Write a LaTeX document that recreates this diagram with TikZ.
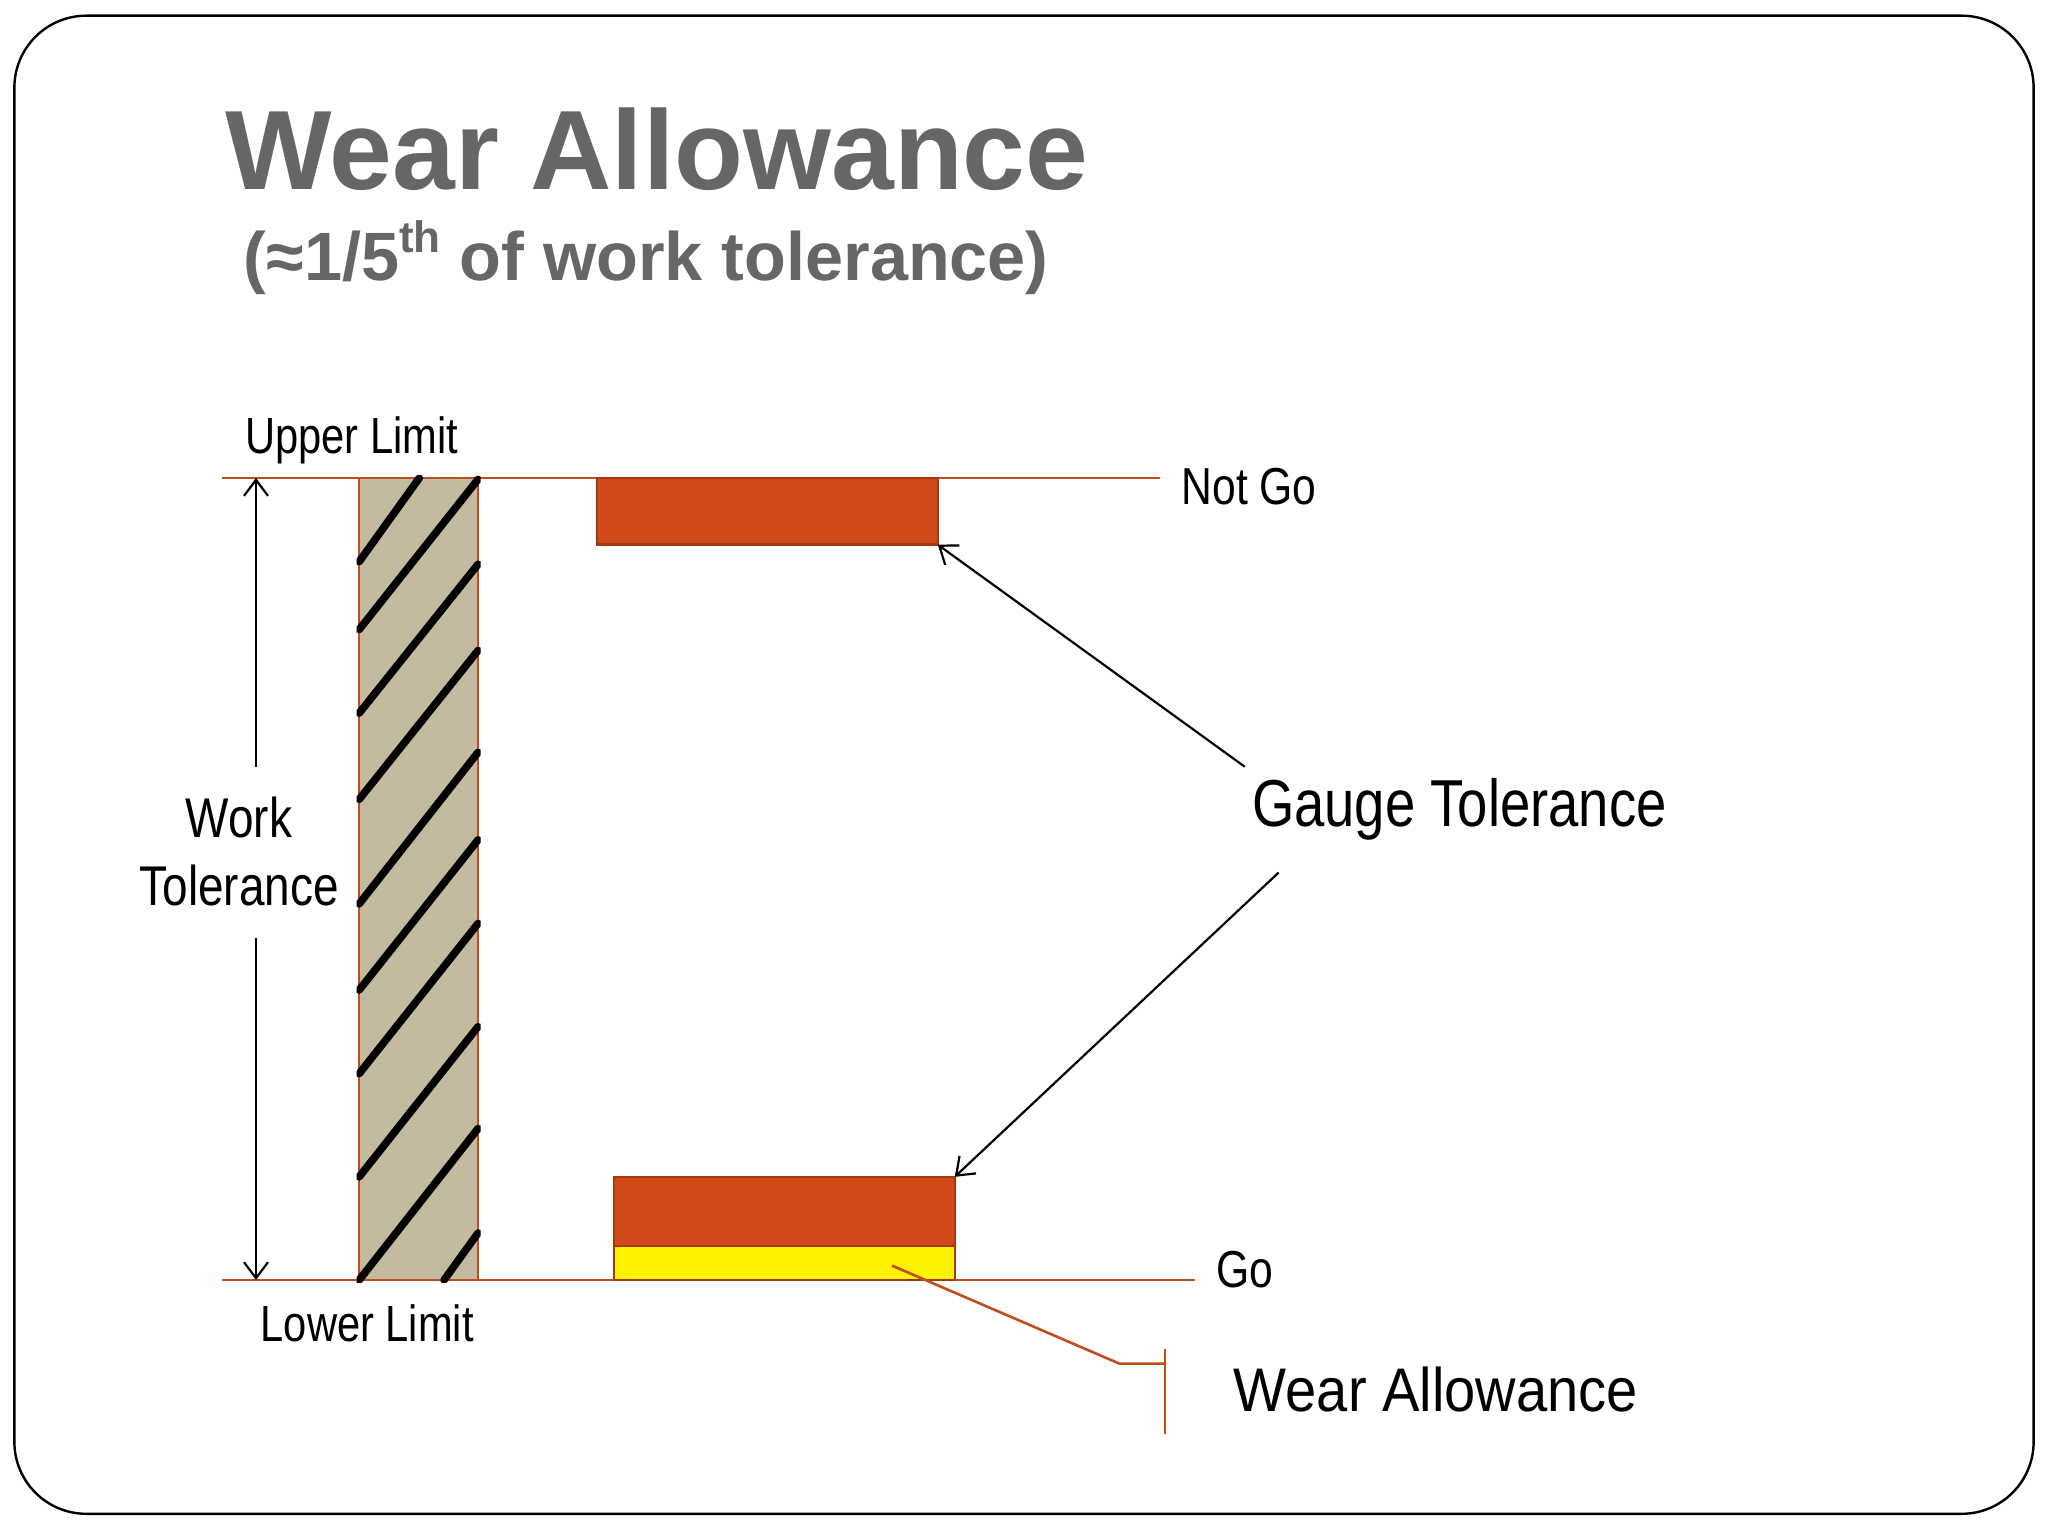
\documentclass[tikz,border=0pt]{standalone}
\usepackage{fontspec}
\setmainfont{Liberation Sans}
\newfontfamily\narrowfont[FakeStretch=0.82]{Liberation Sans}
\newfontfamily\semifont[FakeStretch=0.91]{Liberation Sans}
\usetikzlibrary{arrows.meta}
\definecolor{lineor}{RGB}{190,78,30}
\definecolor{rectedge}{RGB}{165,55,20}
\definecolor{redfill}{RGB}{210,74,26}
\definecolor{tanfill}{RGB}{196,186,160}
\definecolor{titlegray}{RGB}{104,101,102}
\tikzset{
  limitline/.style={draw=lineor, line width=0.55pt},
  gaugebox/.style={draw=rectedge, line width=0.6pt, fill=redfill},
  wearbox/.style={draw=rectedge, line width=0.6pt, fill=yellow},
  hatchline/.style={line width=1.9pt, black, line cap=round},
  ptr/.style={line width=0.55pt, black, -{Straight Barb[length=4pt,width=6pt]}},
  lbl/.style={inner sep=0pt, anchor=base west, font=\narrowfont\fontsize{12.7}{15}\selectfont},
}
\begin{document}
\begin{tikzpicture}[x=0.32653pt, y=-0.32653pt]
\useasboundingbox (0,0) rectangle (1568,1176);
\fill[white] (0,0) rectangle (1568,1176);
\draw[line width=0.6pt, rounded corners=18pt] (11,12) rectangle (1557,1159);

% title
\node[inner sep=0pt, anchor=base west, text=titlegray, font=\bfseries\fontsize{28.2}{33}\selectfont] (title) at (172,145) {Wear Allowance};
\node[inner sep=0pt, anchor=base west, text=titlegray, font=\bfseries\fontsize{17.1}{20}\selectfont] (subtitle) at (186,215)
  {(≈1/5\raisebox{0.42em}{\fontsize{11}{12}\selectfont th} of work tolerance)};

% limit lines
\coordinate (ulA) at (170,366); \coordinate (ulB) at (888,366);
\coordinate (llA) at (170,980); \coordinate (llB) at (915,980);
\draw[limitline] (ulA) -- (ulB);
\draw[limitline] (llA) -- (llB);

% hatched work column
\coordinate (colTL) at (275,366); \coordinate (colBR) at (366,980);
\fill[tanfill] (colTL) rectangle (colBR);
\draw[draw=lineor, line width=0.6pt] (colTL) rectangle (colBR);
\begin{scope}
  \clip (273,364) rectangle (368,982);
  \draw[hatchline] (275,430) -- (321,366);
  \draw[hatchline] (275,482) -- (366,367);
  \draw[hatchline] (275,546) -- (366,432);
  \draw[hatchline] (275,612) -- (366,498);
  \draw[hatchline] (275,692) -- (366,576);
  \draw[hatchline] (275,758) -- (366,643);
  \draw[hatchline] (275,822) -- (366,707);
  \draw[hatchline] (275,901) -- (366,786);
  \draw[hatchline] (275,980) -- (366,864);
  \draw[hatchline] (340,980) -- (366,944);
\end{scope}

% labels of limits
\node[lbl] (upper) at (187,347) {Upper Limit};
\node[lbl] (lower) at (199,1027) {Lower Limit};

% work tolerance dimension
\node[inner sep=0pt, align=center, font=\narrowfont\fontsize{14}{17}\selectfont] (wt) at (183,652) {Work\\Tolerance};
\coordinate (wtTop) at (196,366); \coordinate (wtBot) at (196,980);
\coordinate (wtA) at (196,587); \coordinate (wtB) at (196,718);
\draw[ptr] (wtA) -- (wtTop);
\draw[ptr] (wtB) -- (wtBot);

% gauge boxes
\coordinate (ngTL) at (457,366); \coordinate (ngBR) at (718,417);
\draw[gaugebox] (ngTL) rectangle (ngBR);
\coordinate (goTL) at (470,901); \coordinate (goMR) at (731,954);
\draw[gaugebox] (goTL) rectangle (goMR);
\coordinate (waTL) at (470,954); \coordinate (waBR) at (731,980);
\draw[wearbox] (waTL) rectangle (waBR);
\coordinate (goTR) at (731,901);

% side labels
\node[lbl, font=\narrowfont\fontsize{13}{16}\selectfont] (notgo) at (904,386) {Not Go};
\node[lbl, font=\narrowfont\fontsize{13}{16}\selectfont] (go) at (931,986) {Go};
\node[lbl, font=\narrowfont\fontsize{16.6}{20}\selectfont] (gauge) at (958,633) {Gauge Tolerance};
\node[lbl, font=\semifont\fontsize{15.4}{18}\selectfont] (wear) at (944,1081) {Wear Allowance};

% gauge tolerance pointers
\coordinate (gtA) at (953,587); \coordinate (gtB) at (979,668);
\draw[ptr] (gtA) -- (ngBR);
\draw[ptr] (gtB) -- (goTR);

% wear allowance leader
\coordinate (waP) at (683,969); \coordinate (waQ) at (857,1044); \coordinate (waR) at (892,1044);
\coordinate (barT) at (892,1033); \coordinate (barB) at (892,1098);
\draw[draw=lineor, line width=0.65pt] (waP) -- (waQ) -- (waR);
\draw[draw=lineor, line width=0.65pt] (barT) -- (barB);
\end{tikzpicture}
\end{document}
